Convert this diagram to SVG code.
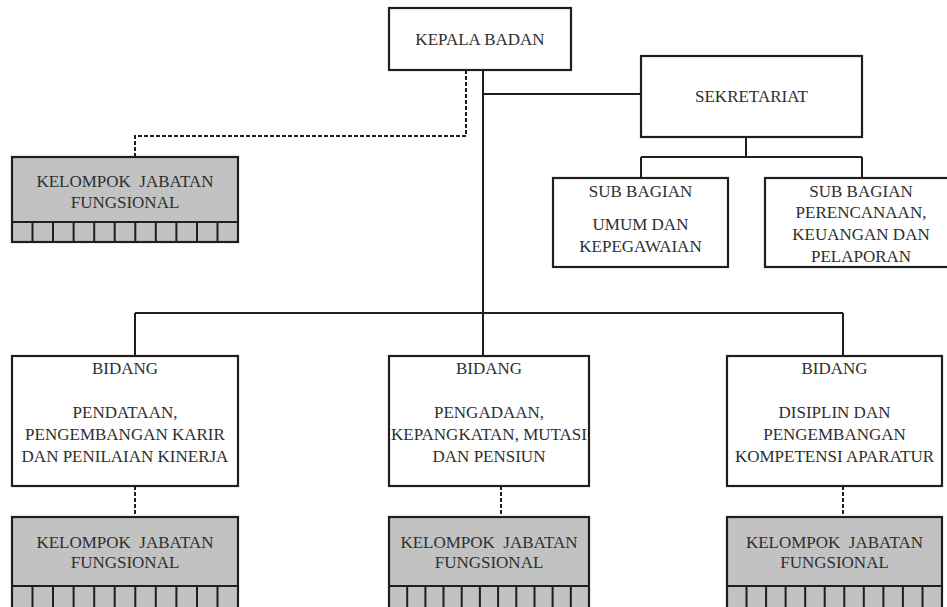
<svg xmlns="http://www.w3.org/2000/svg" width="947" height="607" viewBox="0 0 947 607">
<style>
.box{fill:#fff;stroke:#1e1e1e;stroke-width:2.2}
.kjf{fill:#c2c2c2;stroke:#1e1e1e;stroke-width:2.2}
.cell{stroke:#1e1e1e;stroke-width:2;fill:none}
.ln{stroke:#1e1e1e;stroke-width:2;fill:none}
.dash{stroke:#1e1e1e;stroke-width:2;fill:none;stroke-dasharray:4 2}
text{font-family:"Liberation Serif","Times New Roman",serif;font-size:17px;fill:#2e2e2e;text-anchor:middle;white-space:pre}
</style>
<rect width="947" height="607" fill="#fff"/>
<g id="connectors">
<path class="ln" d="M483,70 V356"/>
<path class="ln" d="M483,94 H641"/>
<path class="ln" d="M746,137 V157 M641,157 H862 M641,157 V178 M862,157 V178"/>
<path class="ln" d="M135,313 H843 M135,313 V356 M843,313 V356"/>
<path class="dash" d="M466,70 V136 H135 V157"/>
<path class="dash" d="M135,486 V517 M501,486 V517 M843,486 V517"/>
</g>
<g id="kepala-badan">
<rect class="box" x="389" y="8" width="182" height="62"/>
<text x="480" y="45">KEPALA BADAN</text>
</g>
<g id="sekretariat">
<rect class="box" x="641" y="56" width="221" height="81"/>
<text x="751.5" y="102">SEKRETARIAT</text>
</g>
<g id="subbag-umum">
<rect class="box" x="553" y="178" width="175" height="89"/>
<text x="640.5" y="197">SUB BAGIAN</text>
<text x="640.5" y="230">UMUM DAN</text>
<text x="640.5" y="252">KEPEGAWAIAN</text>
</g>
<g id="subbag-perencanaan">
<rect class="box" x="765" y="178" width="192" height="89"/>
<text x="861" y="197">SUB BAGIAN</text>
<text x="861" y="218">PERENCANAAN,</text>
<text x="861" y="240">KEUANGAN DAN</text>
<text x="861" y="262">PELAPORAN</text>
</g>
<g id="kjf-top">
<rect class="kjf" x="12" y="157" width="226" height="85"/>
<path class="cell" d="M12,222 H238 M32.5,222 V242 M53,222 V242 M73.6,222 V242 M94.2,222 V242 M114.7,222 V242 M135.3,222 V242 M155.8,222 V242 M176.4,222 V242 M197,222 V242 M217.5,222 V242"/>
<text x="125" y="187">KELOMPOK  JABATAN</text>
<text x="125" y="208">FUNGSIONAL</text>
</g>
<g id="bidang-pendataan">
<rect class="box" x="12" y="356" width="226" height="130"/>
<text x="125" y="374">BIDANG</text>
<text x="125" y="418">PENDATAAN,</text>
<text x="125" y="440">PENGEMBANGAN KARIR</text>
<text x="125" y="462">DAN PENILAIAN KINERJA</text>
</g>
<g id="bidang-pengadaan">
<rect class="box" x="389" y="356" width="200" height="130"/>
<text x="489" y="374">BIDANG</text>
<text x="489" y="418">PENGADAAN,</text>
<text x="489" y="440">KEPANGKATAN, MUTASI</text>
<text x="489" y="462">DAN PENSIUN</text>
</g>
<g id="bidang-disiplin">
<rect class="box" x="727" y="356" width="215" height="130"/>
<text x="834.5" y="374">BIDANG</text>
<text x="834.5" y="418">DISIPLIN DAN</text>
<text x="834.5" y="440">PENGEMBANGAN</text>
<text x="834.5" y="462">KOMPETENSI APARATUR</text>
</g>
<g id="kjf-pendataan">
<rect class="kjf" x="12" y="517" width="226" height="100"/>
<path class="cell" d="M12,586 H238 M32.5,586 V610 M53,586 V610 M73.6,586 V610 M94.2,586 V610 M114.7,586 V610 M135.3,586 V610 M155.8,586 V610 M176.4,586 V610 M197,586 V610 M217.5,586 V610"/>
<text x="125" y="548">KELOMPOK  JABATAN</text>
<text x="125" y="568">FUNGSIONAL</text>
</g>
<g id="kjf-pengadaan">
<rect class="kjf" x="389" y="517" width="200" height="100"/>
<path class="cell" d="M389,586 H589 M407.2,586 V610 M425.4,586 V610 M443.5,586 V610 M461.7,586 V610 M479.9,586 V610 M498.1,586 V610 M516.3,586 V610 M534.5,586 V610 M552.6,586 V610 M570.8,586 V610"/>
<text x="489" y="548">KELOMPOK  JABATAN</text>
<text x="489" y="568">FUNGSIONAL</text>
</g>
<g id="kjf-disiplin">
<rect class="kjf" x="727" y="517" width="215" height="100"/>
<path class="cell" d="M727,586 H942 M746.5,586 V610 M766.1,586 V610 M785.6,586 V610 M805.2,586 V610 M824.7,586 V610 M844.3,586 V610 M863.8,586 V610 M883.4,586 V610 M902.9,586 V610 M922.5,586 V610"/>
<text x="834.5" y="548">KELOMPOK  JABATAN</text>
<text x="834.5" y="568">FUNGSIONAL</text>
</g>
</svg>
